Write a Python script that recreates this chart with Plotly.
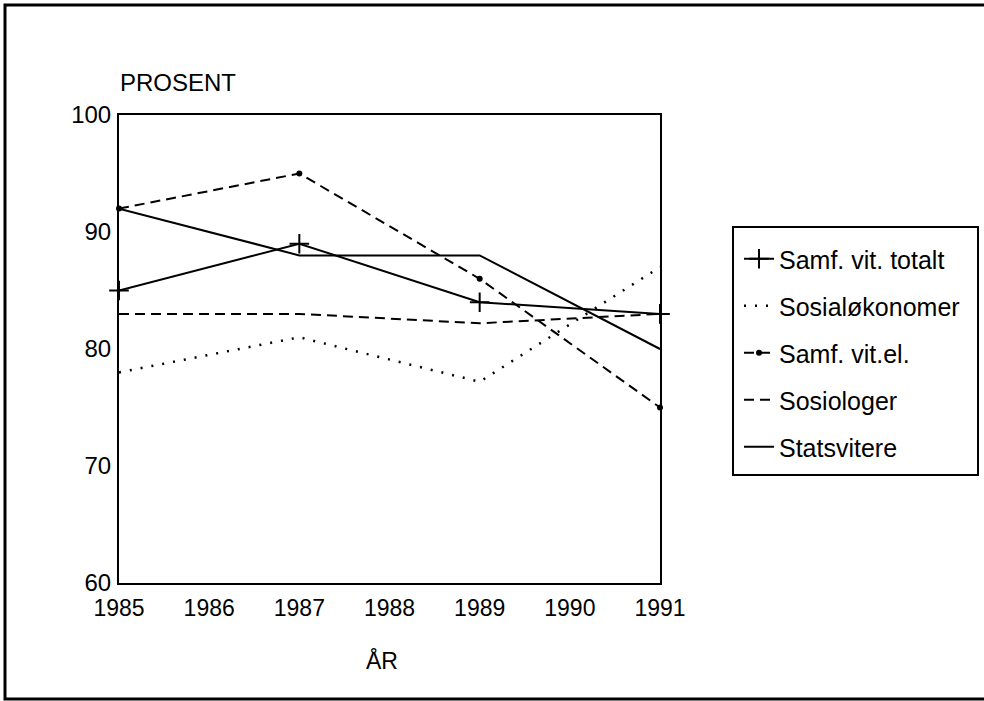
import plotly.graph_objects as go

years = [1985, 1987, 1989, 1991]
x_ticks = [1985, 1986, 1987, 1988, 1989, 1990, 1991]
y_ticks = [60, 70, 80, 90, 100]

samf_totalt = [85, 89, 84, 83]
sosialokonomer = [78, 81, 77.2, 87]
samf_vit_el = [92, 95, 86, 75]
sosiologer = [83, 83, 82.2, 83]
statsvitere = [92, 88, 88, 80]

series_names = ["Samf. vit. totalt", "Sosialøkonomer", "Samf. vit.el.", "Sosiologer", "Statsvitere"]

FONT = "Arial, Liberation Sans, Helvetica, sans-serif"

fig = go.Figure()

fig.add_trace(go.Scatter(
    x=years, y=samf_totalt, name=series_names[0], legendgroup="a",
    mode="lines+markers",
    line=dict(color="black", width=2),
    marker=dict(symbol="cross-thin", size=14, line=dict(color="black", width=2)),
    cliponaxis=False,
))
fig.add_trace(go.Scatter(
    x=years, y=sosialokonomer, name=series_names[1], legendgroup="b",
    mode="lines",
    line=dict(color="black", width=2.5, dash="2px,9px"),
))
fig.add_trace(go.Scatter(
    x=years, y=samf_vit_el, name=series_names[2], legendgroup="c",
    mode="lines+markers",
    line=dict(color="black", width=2, dash="10px,6px"),
    marker=dict(symbol="circle", size=6, color="black"),
    cliponaxis=False,
))
fig.add_trace(go.Scatter(
    x=years, y=sosiologer, name=series_names[3], legendgroup="d",
    mode="lines",
    line=dict(color="black", width=2, dash="10px,6px"),
))
fig.add_trace(go.Scatter(
    x=years, y=statsvitere, name=series_names[4], legendgroup="e",
    mode="lines",
    line=dict(color="black", width=2),
))

L, R, T, B = 119, 660, 115, 583
W, H = 984, 701
pw, ph = R - L, B - T

def px(x):
    return (x - L) / pw

def py(y):
    return (B - y) / ph

fig.update_layout(
    width=W, height=H,
    margin=dict(l=L, r=W - R, t=T, b=H - B, pad=0),
    paper_bgcolor="white", plot_bgcolor="white",
    font=dict(family=FONT, color="black", size=23),
    showlegend=True,
    legend=dict(
        x=px(739), y=py(236), xanchor="left", yanchor="top",
        borderwidth=0, bgcolor="rgba(0,0,0,0)",
        font=dict(family=FONT, size=25, color="black"),
        tracegroupgap=11.5, traceorder="grouped",
        itemwidth=30,
    ),
    xaxis=dict(
        range=[1985, 1991], tickvals=x_ticks, ticktext=[str(v) for v in x_ticks],
        showgrid=False, zeroline=False, showline=True, linecolor="black", linewidth=2,
        mirror=True, ticks="", ticklabelstandoff=3,
        tickfont=dict(family=FONT, size=23, color="black"),
    ),
    yaxis=dict(
        range=[60, 100], tickvals=y_ticks, ticktext=[str(v) for v in y_ticks],
        showgrid=False, zeroline=False, showline=True, linecolor="black", linewidth=2,
        mirror=True, ticks="", ticklabelstandoff=1,
        tickfont=dict(family=FONT, size=24, color="black"),
    ),
    annotations=[
        dict(text="PROSENT", x=px(178), y=py(82), xref="paper", yref="paper",
             xanchor="center", yanchor="middle", showarrow=False,
             font=dict(family=FONT, size=24, color="black")),
        dict(text="ÅR", x=px(382), y=py(660), xref="paper", yref="paper",
             xanchor="center", yanchor="middle", showarrow=False,
             font=dict(family=FONT, size=23, color="black")),
    ],
    shapes=[
        dict(type="rect", xref="paper", yref="paper",
             x0=px(5), x1=px(990), y0=py(699), y1=py(5),
             line=dict(color="black", width=3), fillcolor="rgba(0,0,0,0)", layer="below"),
        dict(type="rect", xref="paper", yref="paper",
             x0=px(733), x1=px(978), y0=py(475), y1=py(227),
             line=dict(color="black", width=2), fillcolor="rgba(0,0,0,0)", layer="below"),
    ],
)

fig.write_html(
    "out.html",
    config={"displayModeBar": False},
    post_script="document.body.style.margin='0';document.body.style.overflow='hidden';",
)
